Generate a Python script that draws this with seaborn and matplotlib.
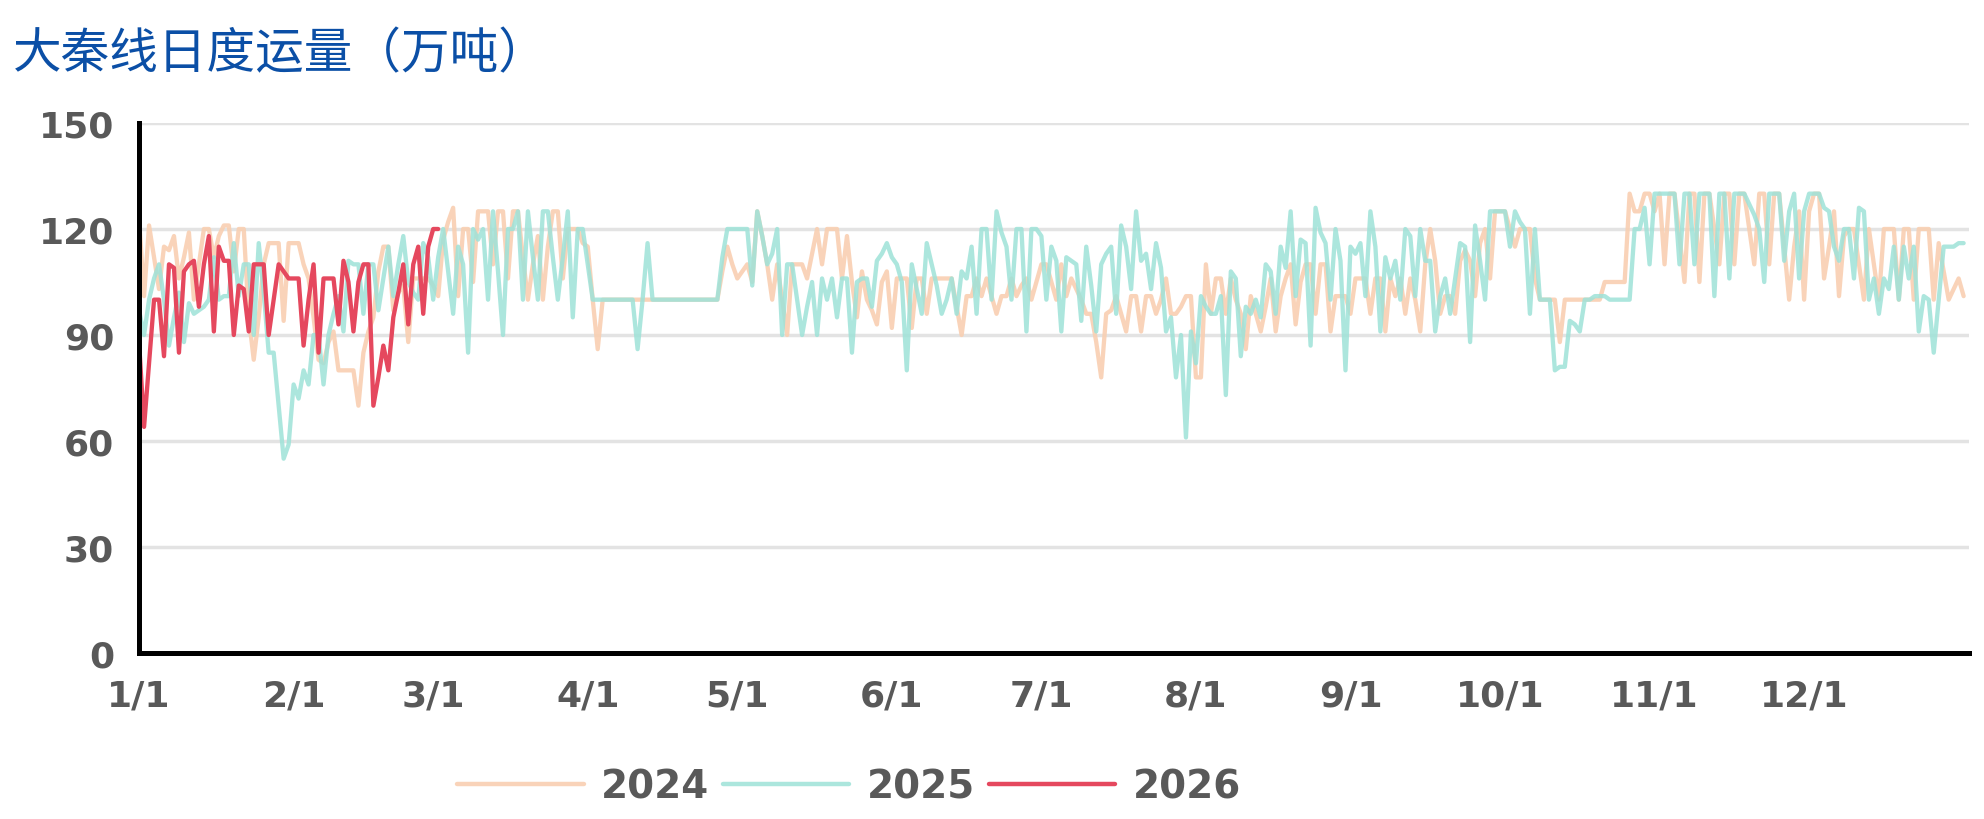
import pandas as pd
import numpy as np
import seaborn as sns
import matplotlib.pyplot as plt

# daily volume, day index counted from 1/1
vol_2024 = [
    123, 101, 121, 112, 103, 115, 114, 118, 106, 112,
    119, 100, 110, 120, 120, 112, 118, 121, 121, 108,
    120, 120, 95, 83, 95, 110, 116, 116, 116, 94,
    116, 116, 116, 110, 106, 95, 83, 82, 88, 91,
    80, 80, 80, 80, 70, 85, 91, 95, 108, 115,
    115, 97, 102, 104, 88, 106, 106, 106, 106, 104,
    101, 117, 122, 126, 101, 120, 120, 105, 125, 125,
    125, 110, 125, 125, 106, 125, 125, 112, 100, 110,
    118, 100, 115, 125, 125, 106, 120, 120, 120, 116,
    115, 100, 86, 100, 100, 100, 100, 100, 100, 100,
    100, 100, 100, 100, 100, 100, 100, 100, 100, 100,
    100, 100, 100, 100, 100, 100, 100, 108, 115, 110,
    106, 108, 110, 105, 125, 118, 110, 100, 110, 100,
    90, 110, 110, 110, 106, 113, 120, 110, 120, 120,
    120, 106, 118, 105, 95, 108, 100, 97, 93, 105,
    108, 92, 106, 106, 106, 92, 106, 106, 96, 106,
    106, 106, 106, 106, 98, 90, 101, 101, 106, 101,
    106, 101, 96, 101, 101, 106, 101, 104, 106, 100,
    105, 110, 110, 105, 100, 110, 101, 106, 103, 100,
    96, 96, 88, 78, 96, 97, 101, 96, 91, 101,
    101, 91, 101, 101, 96, 100, 106, 96, 96, 98,
    101, 101, 78, 78, 110, 96, 106, 106, 96, 106,
    100, 96, 86, 101, 96, 91, 98, 106, 91, 101,
    106, 110, 93, 105, 110, 110, 96, 110, 110, 91,
    101, 101, 101, 96, 106, 106, 106, 96, 106, 106,
    91, 106, 101, 106, 96, 106, 100, 91, 110, 120,
    111, 96, 101, 101, 96, 111, 114, 111, 101, 116,
    120, 106, 125, 125, 125, 120, 115, 120, 120, 120,
    106, 100, 100, 100, 100, 88, 100, 100, 100, 100,
    100, 100, 100, 100, 105, 105, 105, 105, 105, 130,
    125, 125, 130, 130, 125, 130, 110, 130, 130, 118,
    105, 130, 130, 105, 130, 130, 120, 110, 130, 130,
    110, 130, 130, 120, 110, 130, 130, 110, 130, 130,
    115, 100, 115, 125, 100, 125, 130, 130, 106, 115,
    125, 101, 118, 120, 120, 110, 100, 120, 110, 100,
    120, 120, 120, 100, 120, 120, 100, 120, 120, 120,
    100, 116, 108, 100, 103, 106, 101,
]

vol_2025 = [
    97, 90, 100, 106, 110, 100, 87, 95, 102, 88,
    99, 96, 97, 98, 100, 112, 100, 101, 101, 116,
    101, 110, 110, 90, 116, 102, 85, 85, 70, 55,
    59, 76, 72, 80, 76, 90, 90, 76, 90, 96,
    101, 91, 111, 110, 110, 96, 110, 110, 97, 106,
    115, 101, 110, 118, 105, 102, 100, 116, 112, 100,
    112, 120, 108, 96, 115, 110, 85, 120, 117, 120,
    100, 125, 108, 90, 120, 120, 125, 100, 125, 112,
    100, 125, 125, 112, 100, 112, 125, 95, 120, 120,
    110, 100, 100, 100, 100, 100, 100, 100, 100, 100,
    86, 100, 116, 100, 100, 100, 100, 100, 100, 100,
    100, 100, 100, 100, 100, 100, 100, 112, 120, 120,
    120, 120, 120, 104, 125, 118, 110, 113, 120, 90,
    110, 110, 100, 90, 98, 105, 90, 106, 100, 106,
    95, 106, 106, 85, 105, 106, 106, 98, 111, 113,
    116, 112, 110, 105, 80, 110, 103, 96, 116, 110,
    104, 96, 100, 106, 96, 108, 106, 115, 96, 120,
    120, 100, 125, 119, 115, 100, 120, 120, 91, 120,
    120, 118, 100, 115, 111, 91, 112, 111, 110, 94,
    115, 104, 91, 110, 113, 115, 96, 121, 115, 103,
    125, 111, 113, 103, 116, 109, 91, 95, 78, 90,
    61, 91, 82, 101, 98, 96, 96, 101, 73, 108,
    106, 84, 98, 96, 100, 95, 110, 108, 96, 115,
    109, 125, 101, 117, 116, 87, 126, 119, 116, 100,
    120, 111, 80, 115, 113, 116, 101, 125, 115, 91,
    112, 106, 111, 100, 120, 118, 101, 120, 111, 111,
    91, 101, 106, 96, 106, 116, 115, 88, 121, 111,
    100, 125, 125, 125, 125, 115, 125, 122, 120, 96,
    120, 100, 100, 100, 80, 81, 81, 94, 93, 91,
    100, 100, 101, 101, 101, 100, 100, 100, 100, 100,
    120, 120, 126, 110, 130, 130, 130, 130, 130, 110,
    130, 130, 110, 130, 130, 130, 101, 130, 130, 106,
    130, 130, 130, 127, 124, 120, 105, 130, 130, 130,
    111, 125, 130, 106, 125, 130, 130, 130, 126, 125,
    115, 111, 120, 120, 106, 126, 125, 100, 106, 96,
    106, 103, 115, 100, 115, 106, 115, 91, 101, 100,
    85, 100, 115, 115, 115, 116, 116,
]

vol_2026 = [
    88, 64, 82, 100, 100, 84, 110, 109, 85, 108,
    110, 111, 98, 110, 118, 91, 115, 111, 111, 90,
    104, 103, 91, 110, 110, 110, 90, 100, 110, 108,
    106, 106, 106, 87, 100, 110, 85, 106, 106, 106,
    93, 111, 105, 91, 105, 110, 110, 70, 78, 87,
    80, 95, 102, 110, 93, 110, 115, 96, 115, 120,
    120,
]

years = ["2024", "2025", "2026"]
colors = {"2024": "#f9cfb2", "2025": "#9ee2d8", "2026": "#e5485e"}
alphas = {"2024": 0.9, "2025": 0.85, "2026": 1.0}

tick_days = [0, 31, 59, 90, 120, 151, 181, 212, 243, 273, 304, 334, 365]
tick_labels = ["1/1", "2/1", "3/1", "4/1", "5/1", "6/1", "7/1", "8/1",
               "9/1", "10/1", "11/1", "12/1", ""]

frames = []
for y, vals in zip(years, [vol_2024, vol_2025, vol_2026]):
    frames.append(pd.DataFrame({"day": np.arange(len(vals)), "value": vals, "year": y}))
df = pd.concat(frames, ignore_index=True)

sns.set_style("white")
plt.rcParams["font.family"] = ["DejaVu Sans"]

fig = plt.figure(figsize=(19.84, 8.2), dpi=100)
ax = fig.add_axes([0.0701, 0.2024, 0.9224, 0.6464])

for y in years:
    sns.lineplot(data=df[df["year"] == y], x="day", y="value", color=colors[y],
                 alpha=alphas[y], linewidth=3.1, label=y, ax=ax)

ax.set_xlim(0, 367.1)
ax.set_ylim(0, 150)
ax.set_yticks([0, 30, 60, 90, 120, 150])
ax.set_xticks(tick_days)
ax.set_xticklabels(tick_labels)
ax.set_xlabel("")
ax.set_ylabel("")

ax.yaxis.grid(True, color="#e3e3e3", linewidth=2.5)
ax.set_axisbelow(True)
for side in ["top", "right"]:
    ax.spines[side].set_visible(False)
for side in ["left", "bottom"]:
    ax.spines[side].set_color("black")
    ax.spines[side].set_linewidth(3.6)

ax.tick_params(axis="both", direction="out", length=10, width=3.6, color="black",
               labelsize=26, labelcolor="#595959")
ax.tick_params(axis="x", pad=8)
ax.tick_params(axis="y", pad=8)
for lab in ax.get_xticklabels() + ax.get_yticklabels():
    lab.set_fontweight("bold")

leg = ax.legend(loc="center", bbox_to_anchor=(0.428, 0.04), bbox_transform=fig.transFigure,
                ncol=3, frameon=False, handlelength=3.25, handletextpad=0.45,
                columnspacing=0.35, prop={"size": 28, "weight": "bold"})
for t in leg.get_texts():
    t.set_color("#595959")
for h in leg.get_lines():
    h.set_linewidth(3.2)

fig.text(0.0065, 0.934, "大秦线日度运量（万吨）", fontsize=35, color="#0b4fa6",
         va="center", ha="left", family=["Noto Sans CJK SC", "DejaVu Sans"])

fig.savefig("out.png", dpi=100)
